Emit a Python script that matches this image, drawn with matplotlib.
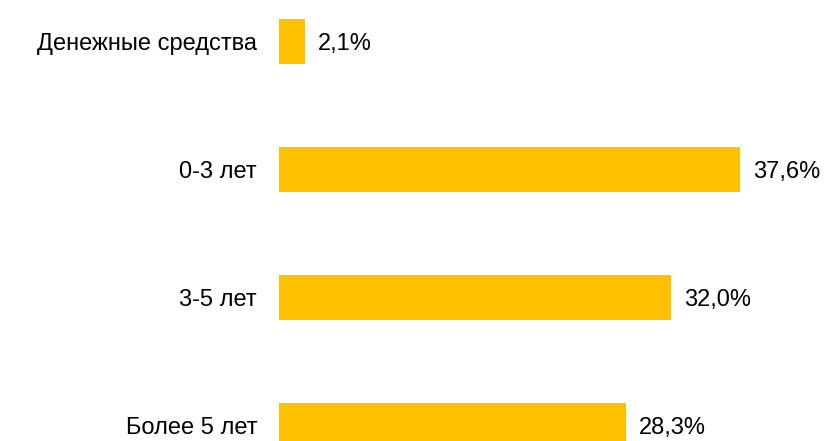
import matplotlib.pyplot as plt

# Данные
categories = ["Денежные средства", "0-3 лет", "3-5 лет", "Более 5 лет"]
values = [2.1, 37.6, 32.0, 28.3]
labels = ["2,1%", "37,6%", "32,0%", "28,3%"]

plt.rcParams["font.family"] = ["Liberation Sans", "DejaVu Sans"]

fig = plt.figure(figsize=(8.33, 4.41), dpi=100)
# оси занимают всю высоту, левый край = начало столбцов
ax = fig.add_axes([279 / 833, 0, 554 / 833, 1])

y_pos = list(range(len(categories)))
ax.barh(y_pos, values, height=0.35, color="#FFC000")

px_per_unit = 12.26
ax.set_xlim(0, 554 / px_per_unit)
ax.set_ylim((441 - 41.5) / 128, -41.5 / 128)

for y, v, lab in zip(y_pos, values, labels):
    ax.annotate(lab, (v, y), xytext=(13, 0), textcoords="offset pixels",
                va="center_baseline", ha="left", fontsize=17, color="#000000",
                annotation_clip=False)

for y, cat in zip(y_pos, categories):
    ax.annotate(cat, (0, y), xytext=(-22, 0), textcoords="offset pixels",
                va="center_baseline", ha="right", fontsize=17, color="#000000",
                annotation_clip=False)

ax.set_xticks([])
ax.set_yticks([])
for s in ax.spines.values():
    s.set_visible(False)

fig.savefig("out.png", dpi=100)
